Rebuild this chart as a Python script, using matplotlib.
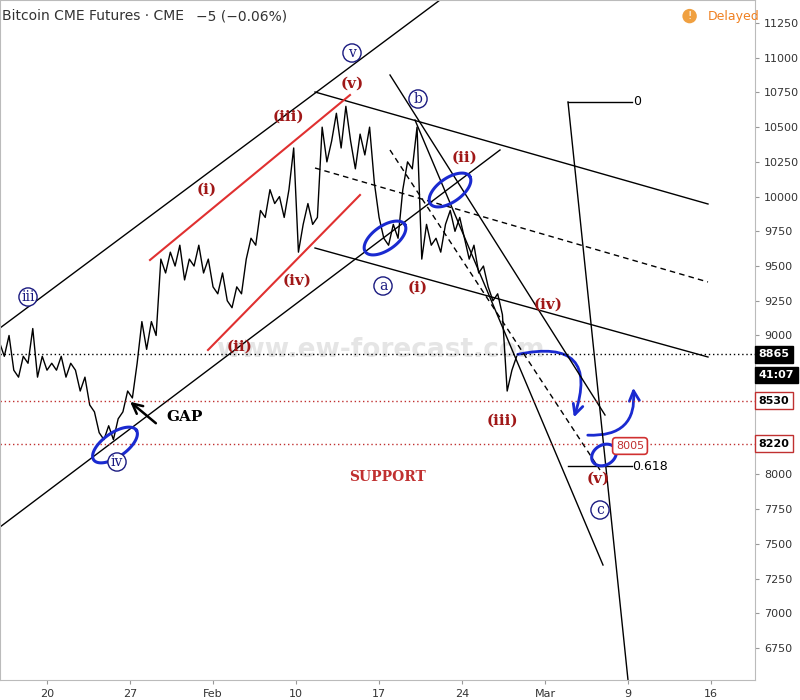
import matplotlib
matplotlib.use("Agg")
import matplotlib.pyplot as plt
import numpy as np
from matplotlib.patches import FancyArrowPatch

days = [-4.0,-3.6,-3.2,-2.8,-2.4,-2.0,-1.6,-1.2,-0.8,-0.4,0,0.4,0.8,1.2,1.6,2.0,2.4,2.8,3.2,3.6,4.0,4.4,4.8,5.2,5.6,6.0,6.4,6.8,7.2,7.6,8.0,8.4,8.8,9.2,9.6,10.0,10.4,10.8,11.2,11.6,12.0,12.4,12.8,13.2,13.6,14.0,14.4,14.8,15.2,15.6,16.0,16.4,16.8,17.2,17.6,18.0,18.4,18.8,19.2,19.6,20.0,20.4,20.8,21.2,21.6,22.0,22.4,22.8,23.2,23.6,24.0,24.4,24.8,25.2,25.6,26.0,26.4,26.8,27.2,27.6,28.0,28.4,28.8,29.2,29.6,30.0,30.4,30.8,31.2,31.6,32.0,32.4,32.8,33.2,33.6,34.0,34.4,34.8,35.2,35.6,36.0,36.4,36.8,37.2,37.6,38.0,38.4,38.8,39.2,39.6]
prices = [8950,8850,9000,8750,8700,8850,8800,9050,8700,8850,8750,8800,8750,8850,8700,8800,8750,8600,8700,8500,8450,8300,8250,8350,8250,8400,8450,8600,8550,8800,9100,8900,9100,9000,9550,9450,9600,9500,9650,9400,9550,9500,9650,9450,9550,9350,9300,9450,9250,9200,9350,9300,9550,9700,9650,9900,9850,10050,9950,10000,9850,10050,10350,9600,9800,9950,9800,9850,10500,10250,10400,10600,10350,10650,10400,10200,10450,10300,10500,10100,9850,9700,9650,9800,9700,10050,10250,10200,10500,9550,9800,9650,9700,9600,9800,9900,9750,9850,9700,9550,9650,9450,9500,9350,9250,9300,9150,8600,8750,8850]
price_ticks = list(range(6750, 11251, 250))
date_ticks = [0, 7, 14, 21, 28, 35, 42, 49, 56]
date_labels = ["20", "27", "Feb", "10", "17", "24", "Mar", "9", "16"]

def P(x, y):
    return ((x - 47) / 11.86, 11250 - (y - 23) / 34.72 * 250)

fig = plt.figure(figsize=(8, 7), dpi=100)
ax = fig.add_axes([0, 1 - 680/700, 755/800, 680/700])
x0, y0 = P(0, 680); x1, y1 = P(755, 0)
ax.set_xlim(x0, x1); ax.set_ylim(y0, y1)
ax.plot(days, prices, color="black", lw=1)

ax.yaxis.tick_right()
ax.set_yticks(price_ticks)
hidden = {8250, 8500, 8750}
ax.set_yticklabels(["" if p in hidden else str(p) for p in price_ticks], fontsize=8, color="#333")
ax.set_xticks(date_ticks)
ax.set_xticklabels(date_labels, fontsize=8, color="#333")
ax.tick_params(length=3, color="#999")
for s in ax.spines.values():
    s.set_color("#bbb")

def L(p1, p2, **kw):
    a = P(*p1); b = P(*p2)
    ax.plot([a[0], b[0]], [a[1], b[1]], **kw)

k = dict(color="black", lw=1)
L((0, 328), (440, 0), **k)
L((0, 527), (500, 150), **k)
L((315, 92), (708, 204), **k)
L((315, 168), (708, 282), color="black", lw=1, ls=(0, (4, 3)))
L((315, 248), (708, 357), **k)
L((390, 75), (605, 415), **k)
L((415, 120), (603, 565), **k)
L((390, 150), (600, 470), color="black", lw=1, ls=(0, (4, 3)))
L((568, 102), (628, 680), **k)
L((568, 102), (632, 102), **k)
L((568, 466), (632, 466), **k)
r = dict(color="#e03030", lw=1.5)
L((150, 260), (350, 95), **r)
L((208, 350), (360, 195), **r)

ax.axhline(8865, color="black", lw=1, ls=(0, (1, 2)))
ax.axhline(8530, color="#c03030", lw=1, ls=(0, (1, 2)))
ax.axhline(8220, color="#c03030", lw=1, ls=(0, (1, 2)))

def T(x, y, s, **kw):
    a = P(x, y)
    ax.text(a[0], a[1], s, ha="center", va="center", **kw)

T(380, 350, "www.ew-forecast.com", fontsize=19, color="#d4d4d4", alpha=0.6, fontweight="bold", zorder=0)
red = dict(color="#a01818", fontsize=11, fontweight="bold", family="DejaVu Serif")
for x, y, s in [(352, 84, "(v)"), (288, 117, "(iii)"), (207, 190, "(i)"), (240, 347, "(ii)"),
                (297, 281, "(iv)"), (465, 158, "(ii)"), (418, 288, "(i)"), (548, 305, "(iv)"),
                (502, 421, "(iii)"), (598, 479, "(v)")]:
    T(x, y, s, **red)
for x, y, s in [(28, 297, "iii"), (352, 53, "v"), (418, 99, "b"), (383, 286, "a"), (600, 510, "c"), (117, 462, "iv")]:
    T(x, y, s, color="#1a1a80", fontsize=10, family="DejaVu Serif",
      bbox=dict(boxstyle="circle,pad=0.15", fc="white", ec="#1a1a80", lw=1))

T(185, 417, "GAP", fontsize=11, fontweight="bold", family="DejaVu Serif")
ax.add_patch(FancyArrowPatch(P(158, 425), P(128, 400), arrowstyle="->", mutation_scale=18, lw=1.8, color="black"))
T(388, 477, "SUPPORT", color="#c03030", fontsize=10, fontweight="bold", family="DejaVu Serif")
T(637, 102, "0", fontsize=9)
T(650, 467, "0.618", fontsize=9)
T(630, 446, "8005", color="#c03030", fontsize=8,
  bbox=dict(boxstyle="round,pad=0.3", fc="white", ec="#d03030", lw=1.2))

t = np.linspace(0, 2 * np.pi, 100)
for (x, y, w, h, ang) in [(115, 445, 52, 24, 35), (385, 238, 48, 24, 35), (450, 190, 48, 24, 35), (604, 455, 26, 20, 30)]:
    a = np.deg2rad(ang)
    ex = w / 2 * np.cos(t); ey = h / 2 * np.sin(t)
    px = x + ex * np.cos(a) + ey * np.sin(a)
    py = y - ex * np.sin(a) + ey * np.cos(a)
    pts = [P(u, v) for u, v in zip(px, py)]
    ax.plot([q[0] for q in pts], [q[1] for q in pts], color="#1a2ad0", lw=2.2)

ax.add_patch(FancyArrowPatch(P(515, 355), P(573, 420), connectionstyle="arc3,rad=-0.9",
                             arrowstyle="->", mutation_scale=18, lw=2, color="#1a2ad0"))
ax.add_patch(FancyArrowPatch(P(585, 435), P(633, 385), connectionstyle="arc3,rad=0.6",
                             arrowstyle="->", mutation_scale=18, lw=2, color="#1a2ad0"))

fig.text(0.003, 0.977, "Bitcoin CME Futures · CME  ", fontsize=10, color="#333", va="center")
fig.text(0.245, 0.977, "−5 (−0.06%)", fontsize=10, color="#333", va="center")
fig.text(0.885, 0.977, "Delayed", fontsize=9, color="#f08020", va="center")
fig.text(0.862, 0.977, "!", fontsize=8, color="white", va="center", ha="center",
         bbox=dict(boxstyle="circle,pad=0.2", fc="#f0a040", ec="none"))

def tag(price, s, fc, tc, ec):
    ax.text(1.005, price, s, transform=ax.get_yaxis_transform(), fontsize=8, fontweight="bold",
            color=tc, va="center", ha="left", bbox=dict(boxstyle="square,pad=0.3", fc=fc, ec=ec))
tag(8865, "8865", "black", "white", "black")
tag(8715, "41:07", "black", "white", "black")
tag(8530, "8530", "white", "black", "#c03030")
tag(8220, "8220", "white", "black", "#c03030")

fig.savefig("out.png", dpi=100)
